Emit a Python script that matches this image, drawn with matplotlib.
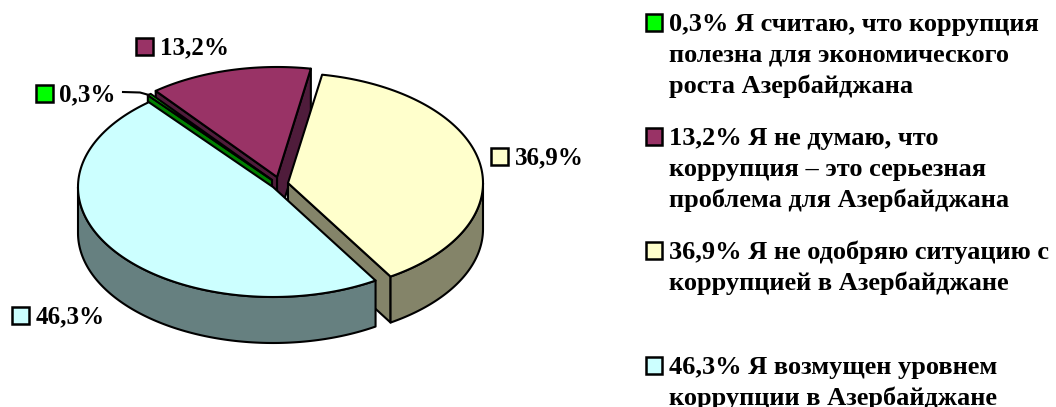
import numpy as np
import matplotlib
matplotlib.use('Agg')
import matplotlib.pyplot as plt
from matplotlib.patches import Polygon, Rectangle

plt.rcParams['font.family'] = ['Liberation Serif', 'DejaVu Serif']

# drawing order around the pie, counter clockwise from the top
values = [13.2, 0.3, 46.3, 36.9]
value_labels = ['13,2%', '0,3%', '46,3%', '36,9%']
top_colors = ['#993366', '#00FF00', '#CCFFFF', '#FFFFCC']
wall_colors = ['#4F1C3B', '#008000', '#668080', '#848469']
legend_texts = [
    ['0,3% Я считаю, что коррупция', 'полезна для экономического', 'роста Азербайджана'],
    ['13,2% Я не думаю, что', 'коррупция – это серьезная', 'проблема для Азербайджана'],
    ['36,9% Я не одобряю ситуацию с', 'коррупцией в Азербайджане'],
    ['46,3% Я возмущен уровнем', 'коррупции в Азербайджане'],
]
legend_colors = ['#00FF00', '#993366', '#FFFFCC', '#CCFFFF']

# pie geometry in pixels
RX, RY, DEPTH = 195, 110, 46
START = 80
centers = [(277, 177), (272, 180), (273, 187), (288, 183)]
stretch = [1.02, 1.0, 1.033, 1.0403]  # the perspective makes front slices look wider
LW = 1.5
FS_LEGEND = 19
FS_LABEL = 18

fig = plt.figure(figsize=(10.56, 4.07), dpi=100)
ax = fig.add_axes([0, 0, 1, 1])
ax.set_xlim(0, 1056)
ax.set_ylim(407, 0)
ax.axis('off')


def rim(cx, cy, a0, a1, dy=0):
    t = np.radians(np.linspace(a0, a1, 120))
    return np.column_stack([cx + RX * np.cos(t), cy - RY * np.sin(t) + dy])


def poly(pts, color, z):
    ax.add_patch(Polygon(pts, closed=True, facecolor=color, edgecolor='black',
                         linewidth=LW, joinstyle='round', zorder=z))


def cut_wall(c, a, color, z):
    p = rim(c[0], c[1], a, a + 1)[0]
    poly([c, p, (p[0], p[1] + DEPTH), (c[0], c[1] + DEPTH)], color, z)


spans = np.array(values) * 3.6 * np.array(stretch)
edges = START + np.concatenate([[0], np.cumsum(spans)])

# back slices first, the front ones cover what they hide
cut_wall(centers[0], edges[0], wall_colors[0], 1)
cut_wall(centers[0], edges[1], wall_colors[0], 1)
cut_wall(centers[1], edges[2], wall_colors[1], 2)
poly(np.vstack([[centers[0]], rim(*centers[0], edges[0], edges[1])]), top_colors[0], 3)
poly(np.vstack([[centers[1]], rim(*centers[1], edges[1], edges[2])]), top_colors[1], 3)

# yellow slice
cut_wall(centers[3], edges[3], wall_colors[3], 4)
outer = rim(*centers[3], edges[3], 360)
poly(np.vstack([outer, rim(*centers[3], 360, edges[3], DEPTH)]), wall_colors[3], 4)
poly(np.vstack([[centers[3]], rim(*centers[3], edges[3], edges[4])]), top_colors[3], 5)

# blue slice
outer = rim(*centers[2], 180, edges[3])
poly(np.vstack([outer, rim(*centers[2], edges[3], 180, DEPTH)]), wall_colors[2], 6)
poly(np.vstack([[centers[2]], rim(*centers[2], edges[2], edges[3])]), top_colors[2], 7)


def swatch(x, y, color):
    ax.add_patch(Rectangle((x, y - 0.5), 16.5, 17, facecolor=color, edgecolor='black',
                           linewidth=1.8, zorder=8))


# data labels
label_pos = [(136, 38), (36, 85), (12, 307), (491, 148)]
for lab, col, (x, y) in zip(value_labels, top_colors, label_pos):
    swatch(x, y, col)
    ax.text(x + 23.5, y + 16, lab, fontsize=FS_LABEL, fontweight='bold', va='baseline', ha='left', color='black')

# leader line of the small slice
ax.plot([123, 140, 149], [92, 92.5, 95], color='black', lw=LW, zorder=8)

# legend
legend_y = [14, 128, 242, 357]
for lines, col, y in zip(legend_texts, legend_colors, legend_y):
    swatch(645.5, y, col)
    for i, line in enumerate(lines):
        ax.text(669, y + 17 + i * 30.8, line, fontsize=FS_LEGEND, fontweight='bold', va='baseline', ha='left', color='black')

fig.savefig('out.png', dpi=100, facecolor='white')
